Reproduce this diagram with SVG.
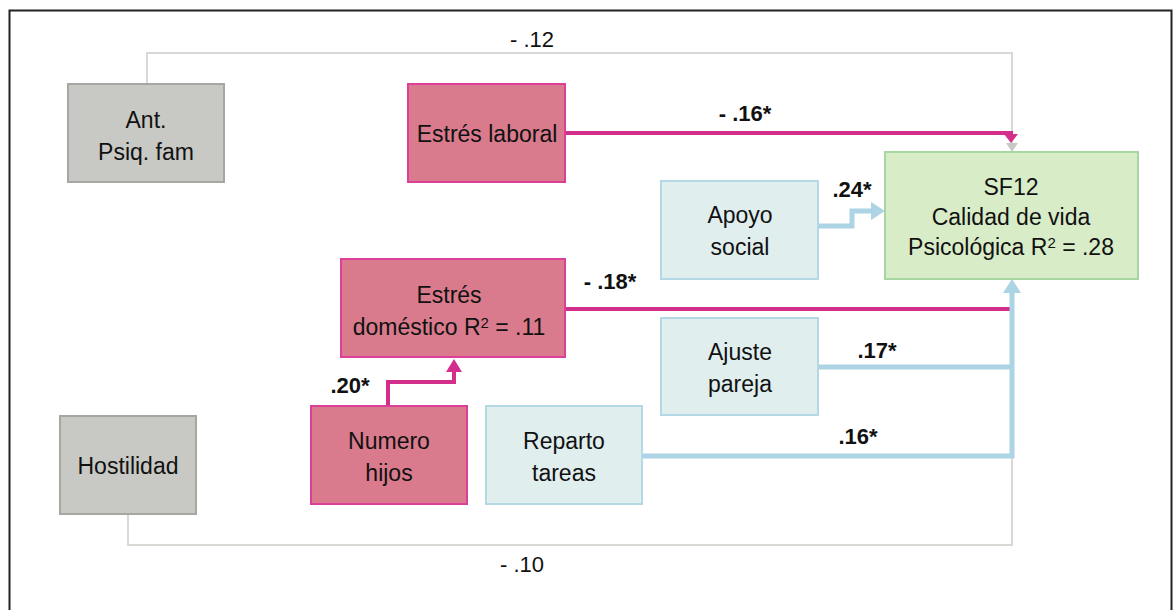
<svg xmlns="http://www.w3.org/2000/svg" width="1175" height="610" viewBox="0 0 1175 610">
<defs>
<style>
text{font-family:"Liberation Sans",Arial,sans-serif;fill:#111;text-anchor:middle}
.nt{font-size:23px}
.lb{font-size:22px}
.lbb{font-size:22px;font-weight:bold}
.gray{fill:#c8c8c4;stroke:#a6a6a2;stroke-width:2}
.pink{fill:#d97b8c;stroke:#db3f98;stroke-width:2}
.blue{fill:#e0eeee;stroke:#b4d8e4;stroke-width:2}
.green{fill:#d8ecc8;stroke:#a8d6a0;stroke-width:2}
.cg{fill:none;stroke:#d8d8d4;stroke-width:2}
.cp{fill:none;stroke:#d42e8c;stroke-width:4}
.cb{fill:none;stroke:#acd4e4;stroke-width:5}
</style>
</defs>
<rect x="9.5" y="10.5" width="1162" height="620" fill="#fff" stroke="#222" stroke-width="2"/>
<g id="connectors">
<polyline class="cg" points="147,84 147,53 1012,53 1012,143"/>
<path d="M1006,143 L1018,143 L1012,152 Z" fill="#c8c8c4"/>
<polyline class="cg" points="128,514 128,545 1012,545 1012,456"/>
<polyline class="cp" points="565,133 1011,133 1011,136"/>
<path d="M1004,134 L1018,134 L1011,143 Z" fill="#d42e8c"/>
<polyline class="cp" points="565,309 1011,309"/>
<polyline class="cb" points="642,456 1012,456 1012,292"/>
<path d="M1003,293 L1021,293 L1012,279 Z" fill="#acd4e4"/>
<polyline class="cb" points="818,226 852,226 852,211 872,211"/>
<polyline class="cb" points="818,367 1012,367"/>
<path d="M871,202 L871,220 L885,211 Z" fill="#acd4e4"/>
<polyline class="cp" points="388,406 388,382 454,382 454,370"/>
<path d="M446,372 L462,372 L454,359 Z" fill="#d42e8c"/>
<text class="lb" x="532" y="47">- .12</text>
<text class="lbb" x="745" y="121">- .16*</text>
<text class="lbb" x="852" y="197">.24*</text>
<text class="lbb" x="610" y="289">- .18*</text>
<text class="lbb" x="877" y="358">.17*</text>
<text class="lbb" x="858" y="444">.16*</text>
<text class="lbb" x="350" y="393">.20*</text>
<text class="lb" x="522" y="572">- .10</text>
</g>
<g id="ant"><rect class="gray" x="68" y="84" width="156" height="98"/><text class="nt" x="146" y="128">Ant.</text><text class="nt" x="146" y="160">Psiq. fam</text></g>
<g id="laboral"><rect class="pink" x="408" y="84" width="157" height="98"/><text class="nt" x="487" y="142">Estrés laboral</text></g>
<g id="sf12"><rect class="green" x="885" y="152" width="253" height="127"/><text class="nt" x="1011" y="195">SF12</text><text class="nt" x="1011" y="225">Calidad de vida</text><text class="nt" x="1011" y="255">Psicológica R<tspan font-size="15" dy="-7">2</tspan><tspan dy="7"> = .28</tspan></text></g>
<g id="apoyo"><rect class="blue" x="661" y="181" width="157" height="98"/><text class="nt" x="740" y="223">Apoyo</text><text class="nt" x="740" y="255">social</text></g>
<g id="domestico"><rect class="pink" x="341" y="259" width="224" height="98"/><text class="nt" x="449" y="303">Estrés</text><text class="nt" x="449" y="335">doméstico R<tspan font-size="15" dy="-7">2</tspan><tspan dy="7"> = .11</tspan></text></g>
<g id="ajuste"><rect class="blue" x="661" y="318" width="157" height="97"/><text class="nt" x="740" y="360">Ajuste</text><text class="nt" x="740" y="392">pareja</text></g>
<g id="hijos"><rect class="pink" x="311" y="406" width="156" height="98"/><text class="nt" x="389" y="449">Numero</text><text class="nt" x="389" y="481">hijos</text></g>
<g id="reparto"><rect class="blue" x="486" y="406" width="156" height="98"/><text class="nt" x="564" y="449">Reparto</text><text class="nt" x="564" y="481">tareas</text></g>
<g id="hostilidad"><rect class="gray" x="60" y="416" width="136" height="98"/><text class="nt" x="128" y="474">Hostilidad</text></g>
</svg>
